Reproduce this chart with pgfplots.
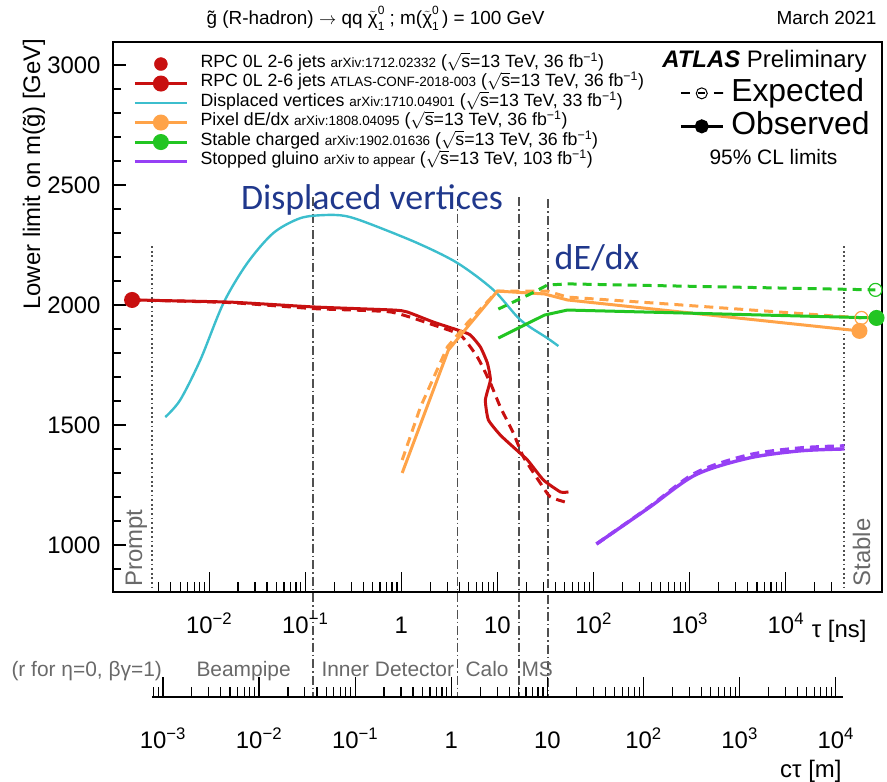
\documentclass[border=0pt]{standalone}
\usepackage{pgfplots}
\pgfplotsset{compat=1.18}
\usepackage{fontspec}
\setmainfont{Liberation Sans}
\newfontfamily\calibri{Carlito}

\definecolor{rpcred}{RGB}{200,16,16}
\definecolor{dvcyan}{RGB}{60,190,205}
\definecolor{pixorange}{RGB}{255,163,72}
\definecolor{scgreen}{RGB}{34,197,34}
\definecolor{sgpurple}{RGB}{150,64,245}
\definecolor{annblue}{RGB}{32,56,140}
\definecolor{bndgray}{RGB}{80,80,80}
\definecolor{txtgray}{RGB}{105,105,105}

\newcommand{\fs}[1]{\fontsize{#1}{#1}\selectfont}
\newcommand{\sqs}{$\sqrt{\mbox{s}}$}
\newcommand{\invfb}{fb\textsuperscript{−1}}
\newcommand{\neut}{$\tilde{\mbox{χ}}$\rlap{\raisebox{1.05ex}{\fs{12}0}}\raisebox{-0.55ex}{\fs{12}1}}
\newcommand{\tp}[1]{10\textsuperscript{#1}}

\tikzset{
  boundary/.style={bndgray, line width=1.6bp, dash pattern=on 9bp off 3bp on 1.5bp off 3bp},
  edgeline/.style={bndgray, line width=2bp, dash pattern=on 1.8bp off 2.8bp},
  expd/.style={dash pattern=on 9bp off 6bp},
}

\begin{document}
\begin{tikzpicture}
% ---------------- main frame, y axis, limit curves ----------------
\begin{axis}[
  at={(0bp,0bp)}, anchor=south west,
  scale only axis, width=769bp, height=550bp,
  xmode=log, xmin=1e-3, xmax=1e5,
  ymin=804, ymax=3096,
  xtick=\empty,
  ytick={1000,1500,2000,2500,3000},
  minor ytick={900,1100,1200,1300,1400,1600,1700,1800,1900,2100,2200,2300,2400,2600,2700,2800,2900},
  ytick pos=left, tick align=inside,
  major tick length=13bp, minor tick length=8bp,
  tick style={line width=1.2bp, black},
  axis line style={line width=1.2bp},
  yticklabel style={font=\fs{24}, anchor=east, xshift=-9bp},
  /pgf/number format/assume math mode=true,
  /pgf/number format/1000 sep={},
  ylabel={Lower limit on m(\~{g}) [GeV]},
  ylabel style={font=\fs{24}, at={(axis description cs:-0.0949,1.0127)}, anchor=base east},
  clip=false,
  legend image code/.code={\draw[mark repeat=2,mark phase=2,#1] plot coordinates {(0bp,0bp) (26bp,0bp) (52bp,0bp)};},
  legend style={at={(axis description cs:0.026,0.978)}, anchor=north west,
    draw=none, fill=none, font=\fs{17.8}, row sep=0pt, column sep=12bp, inner sep=0pt,
    nodes={inner sep=0pt, text height=13bp, text depth=6.5bp}},
  legend cell align=left,
]
% detector boundaries (tau in ns) and prompt / stable edges
\addplot[boundary, forget plot] coordinates {(0.12,2450) (0.12,367)};
\addplot[boundary, forget plot] coordinates {(3.84,2450) (3.84,367)};
\addplot[boundary, forget plot] coordinates {(16.7,2450) (16.7,367)};
\addplot[boundary, forget plot] coordinates {(33.4,2440) (33.4,367)};
\addplot[edgeline, forget plot] coordinates {(2.57e-3,2245) (2.57e-3,804)};
\addplot[edgeline, forget plot] coordinates {(3.98e4,2245) (3.98e4,804)};

% Displaced vertices
\addplot[dvcyan, line width=2.4bp, smooth, tension=0.5, forget plot] coordinates {
 (3.50e-3,1533) (5.0e-3,1604) (8.1e-3,1771) (1.41e-2,2008) (2.5e-2,2175) (4.66e-2,2300)
 (8.9e-2,2362) (0.162,2375) (0.261,2371) (0.443,2342) (1.47,2258) (3.83,2175)
 (9.06,2063) (17.3,1938) (33.0,1862) (43.0,1829)};

% RPC 0L 2-6 jets: expected and observed
\addplot[rpcred, line width=3bp, expd, smooth, tension=0.3, forget plot] coordinates {
 (1.58e-3,2021) (1.66e-2,2010) (0.121,1985) (0.769,1971) (2.15,1917) (4.11,1875)
 (6.18,1783) (8.43,1675) (10.7,1575) (14.6,1467) (18.6,1367) (27.9,1258) (35.5,1200) (54.7,1175)};
\addplot[rpcred, line width=3bp, smooth, tension=0.3, mark=*, mark size=6.5bp, mark indices={1}, forget plot] coordinates {
 (1.58e-3,2021) (1.66e-2,2012) (0.121,1992) (0.826,1979) (1.15,1971) (2.15,1929)
 (4.11,1892) (5.22,1875) (6.64,1825) (7.85,1758) (8.43,1688) (7.48,1604) (8.04,1521)
 (10.7,1458) (14.6,1408) (20.5,1354) (30.0,1271) (45.1,1221) (54.7,1221)};

% Pixel dE/dx: expected and observed
\addplot[pixorange, line width=3bp, expd, mark=o, mark size=6.5bp, mark indices={9},
  mark options={solid, line width=1.2bp}, forget plot] coordinates {
 (1.02,1354) (1.58,1575) (3.01,1825) (4.86,1925) (9.97,2058) (33.0,2058) (53.4,2033)
 (600,2004) (6.12e4,1946)};
\addplot[pixorange, line width=3bp, mark=*, mark size=6.5bp, mark indices={7}, forget plot] coordinates {
 (1.02,1300) (3.08,1812) (4.86,1908) (9.97,2058) (30.8,2046) (53.4,2021) (5.83e4,1892)};

% Stable charged: expected and observed
\addplot[scgreen, line width=3bp, expd, mark=o, mark size=6.5bp, mark indices={5},
  mark options={solid, line width=1.2bp}, forget plot] coordinates {
 (10.2,1983) (22.0,2046) (33.0,2083) (53.4,2088) (8.55e4,2063)};
\addplot[scgreen, line width=3bp, mark=*, mark size=6.5bp, mark indices={4}, forget plot] coordinates {
 (10.2,1862) (30.8,1958) (53.4,1979) (8.77e4,1946)};

% Stopped gluino: expected and observed
\addplot[sgpurple, line width=3.4bp, expd, smooth, tension=0.5, forget plot] coordinates {
 (107,1004) (372,1156) (1146,1300) (4085,1375) (1.39e4,1404) (4.07e4,1413)};
\addplot[sgpurple, line width=3.4bp, smooth, tension=0.5, forget plot] coordinates {
 (107,1004) (372,1154) (1146,1292) (4085,1362) (1.39e4,1392) (4.07e4,1400)};

% legend
\addlegendimage{only marks, rpcred, mark=*, mark size=6.5bp}
\addlegendentry{RPC 0L 2-6 jets {\fs{13.5}arXiv:1712.02332} (\sqs=13 TeV, 36 \invfb)}
\addlegendimage{rpcred, line width=3bp, mark=*, mark size=6.5bp}
\addlegendentry{RPC 0L 2-6 jets {\fs{13.5}ATLAS-CONF-2018-003} (\sqs=13 TeV, 36 \invfb)}
\addlegendimage{dvcyan, line width=2.4bp}
\addlegendentry{Displaced vertices {\fs{13.5}arXiv:1710.04901} (\sqs=13 TeV, 33 \invfb)}
\addlegendimage{pixorange, line width=3bp, mark=*, mark size=6.5bp}
\addlegendentry{Pixel dE/dx {\fs{13.5}arXiv:1808.04095} (\sqs=13 TeV, 36 \invfb)}
\addlegendimage{scgreen, line width=3bp, mark=*, mark size=6.5bp}
\addlegendentry{Stable charged {\fs{13.5}arXiv:1902.01636} (\sqs=13 TeV, 36 \invfb)}
\addlegendimage{sgpurple, line width=3.4bp}
\addlegendentry{Stopped gluino {\fs{13.5}arXiv to appear} (\sqs=13 TeV, 103 \invfb)}
\end{axis}

% ---------------- lifetime axis (tau in ns) ----------------
\begin{axis}[
  at={(0bp,0bp)}, anchor=south west,
  scale only axis, width=769bp, height=550bp,
  xmode=log, xmin=1e-3, xmax=1e5, ymin=0, ymax=1,
  axis x line*=bottom, axis y line=none,
  axis line style={line width=1.2bp},
  xtick={1e-2,1e-1,1,10,100,1000,10000},
  xticklabels={\tp{−2},\tp{−1},1,10,\tp{2},\tp{3},\tp{4}},
  minor xtick={3e-3,4e-3,5e-3,6e-3,7e-3,8e-3,9e-3,
    2e-2,3e-2,4e-2,5e-2,6e-2,7e-2,8e-2,9e-2,
    0.2,0.3,0.4,0.5,0.6,0.7,0.8,0.9,
    2,3,4,5,6,7,8,9,
    20,30,40,50,60,70,80,90,
    200,300,400,500,600,700,800,900,
    2000,3000,4000,5000,6000,7000,8000,9000,
    2e4,3e4},
  tick align=inside, major tick length=20bp, minor tick length=10bp,
  tick style={line width=1.2bp, black},
  xticklabel style={font=\fs{24}, anchor=base, yshift=-41bp},
  legend image code/.code={\draw[mark repeat=2,mark phase=2,#1] plot coordinates {(0bp,0bp) (21bp,0bp) (42bp,0bp)};},
  legend style={at={(axis description cs:0.984,0.937)}, anchor=north east,
    draw=none, fill=none, font=\fs{32}, row sep=0pt, column sep=7bp, inner sep=0pt,
    nodes={inner sep=0pt, text height=25bp, text depth=8bp}},
  legend cell align=left,
]
\addlegendimage{black, line width=2bp, dash pattern=on 9bp off 8.5bp on 7bp off 8.5bp on 9bp off 0bp, mark=o, mark size=5.5bp, mark options={solid, line width=1bp}}
\addlegendentry{Expected}
\addlegendimage{black, line width=3bp, mark=*, mark size=5.5bp}
\addlegendentry{Observed}
\end{axis}

% ---------------- decay length axis (c tau in m) ----------------
\begin{axis}[
  at={(39bp,-105bp)}, anchor=south west,
  scale only axis, width=691bp, height=10bp,
  xmode=log, xmin=7.7e-4, xmax=1.19e4, ymin=0, ymax=1,
  axis x line*=bottom, axis y line=none,
  axis line style={line width=1.2bp},
  xtick={1e-3,1e-2,1e-1,1,10,100,1000,10000},
  xticklabels={\tp{−3},\tp{−2},\tp{−1},1,10,\tp{2},\tp{3},\tp{4}},
  minor xtick={8e-4,9e-4,
    2e-3,3e-3,4e-3,5e-3,6e-3,7e-3,8e-3,9e-3,
    2e-2,3e-2,4e-2,5e-2,6e-2,7e-2,8e-2,9e-2,
    0.2,0.3,0.4,0.5,0.6,0.7,0.8,0.9,
    2,3,4,5,6,7,8,9,
    20,30,40,50,60,70,80,90,
    200,300,400,500,600,700,800,900,
    2000,3000,4000,5000,6000,7000,8000,9000},
  tick align=inside, major tick length=20bp, minor tick length=10bp,
  tick style={line width=1.2bp, black},
  xticklabel style={font=\fs{24}, anchor=base, yshift=-51bp},
]
\end{axis}

% ---------------- titles and annotations ----------------
\node[anchor=base west, font=\fs{19}] at (90bp,567bp) {\~{g} (R-hadron) $\rightarrow$ qq \neut\ ; m(\neut\,) = 100 GeV};
\node[anchor=base east, font=\fs{19}] at (767bp,567bp) {March 2021};
\node[anchor=base east, font=\fs{24}] at (757bp,524bp) {\textbf{\textit{ATLAS}} Preliminary};
\node[anchor=base west, font=\fs{21}] at (593bp,427bp) {95\% CL limits};
\node[annblue, font=\calibri\fs{36}] at (259bp,392bp) {Displaced vertices};
\node[annblue, font=\calibri\fs{36}] at (484bp,334bp) {dE/dx};
\node[txtgray, rotate=90, anchor=base west, font=\fs{24}] at (29bp,2bp) {Prompt};
\node[txtgray, rotate=90, anchor=base west, font=\fs{24}] at (757bp,2bp) {Stable};
\node[anchor=base east, font=\fs{24}] at (757bp,-45bp) {τ [ns]};
\node[anchor=base east, font=\fs{24}] at (732bp,-185bp) {cτ [m]};
\node[txtgray, anchor=base west, font=\fs{21}] at (-105bp,-84bp) {(r for η=0, βγ=1)};
\node[txtgray, anchor=base west, font=\fs{21}] at (80bp,-84bp) {Beampipe};
\node[txtgray, anchor=base west, font=\fs{21}] at (205bp,-84bp) {Inner Detector};
\node[txtgray, anchor=base west, font=\fs{21}] at (349bp,-84bp) {Calo};
\node[txtgray, anchor=base west, font=\fs{21}] at (405bp,-84bp) {MS};

\pgfresetboundingbox
\path[use as bounding box] (-113bp,-190bp) rectangle (774bp,592bp);
\end{tikzpicture}
\end{document}
